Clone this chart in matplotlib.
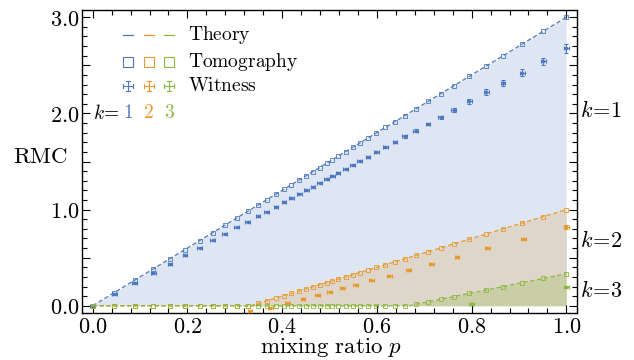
import matplotlib
matplotlib.use("Agg")
import matplotlib.pyplot as plt
from matplotlib.ticker import MultipleLocator, FuncFormatter

plt.rcParams['mathtext.fontset'] = 'cm'
plt.rcParams['font.family'] = ['DejaVu Serif']

# ---------------- data ----------------
theory_p = [0.0, 1/3, 2/3, 1.0]
theory_k1 = [0.0, 1.0, 2.0, 3.0]
theory_k2 = [0.0, 0.0, 0.5, 1.0]
theory_k3 = [0.0, 0.0, 0.0, 1/3]

p_tomo = [0.0, 0.046, 0.089, 0.128, 0.163, 0.195, 0.226, 0.253, 0.279, 0.304,
          0.327, 0.349, 0.367, 0.387, 0.404, 0.419, 0.436, 0.451, 0.465, 0.479,
          0.494, 0.506, 0.518, 0.534, 0.549, 0.564, 0.581, 0.599, 0.618, 0.638,
          0.659, 0.682, 0.708, 0.735, 0.762, 0.795, 0.831, 0.866, 0.907, 0.951, 1.0]
tomo_k1 = [0.0, 0.138, 0.267, 0.384, 0.489, 0.585, 0.678, 0.759, 0.837, 0.912,
           0.981, 1.047, 1.101, 1.161, 1.212, 1.257, 1.308, 1.353, 1.395, 1.437,
           1.482, 1.518, 1.554, 1.602, 1.647, 1.692, 1.743, 1.797, 1.854, 1.914,
           1.977, 2.046, 2.124, 2.205, 2.286, 2.385, 2.493, 2.598, 2.721, 2.853, 3.0]
tomo_k2 = [0.0, 0.0, 0.0, 0.0, 0.0, 0.0, 0.0, 0.0, 0.0, 0.0,
           0.0, 0.024, 0.051, 0.081, 0.106, 0.129, 0.154, 0.177, 0.198, 0.219,
           0.241, 0.259, 0.277, 0.301, 0.324, 0.346, 0.372, 0.399, 0.427, 0.457,
           0.489, 0.523, 0.562, 0.603, 0.643, 0.693, 0.747, 0.799, 0.861, 0.927, 1.0]
tomo_k3 = [0.0, 0.0, 0.0, 0.0, 0.0, 0.0, 0.0, 0.0, 0.0, 0.0,
           0.0, 0.0, 0.0, 0.0, 0.0, 0.0, 0.0, 0.0, 0.0, 0.0,
           0.0, 0.0, 0.0, 0.0, 0.0, 0.0, 0.0, 0.0, 0.0, 0.0,
           0.0, 0.015, 0.041, 0.068, 0.095, 0.128, 0.164, 0.199, 0.240, 0.284, 0.333]

wit_k1 = [0.0, 0.12, 0.235, 0.34, 0.435, 0.525, 0.605, 0.68, 0.75, 0.815,
          0.875, 0.93, 0.98, 1.03, 1.08, 1.12, 1.165, 1.205, 1.24, 1.28,
          1.32, 1.35, 1.385, 1.425, 1.465, 1.505, 1.55, 1.60, 1.65, 1.705,
          1.76, 1.82, 1.89, 1.96, 2.035, 2.125, 2.22, 2.315, 2.425, 2.54, 2.675]
wit_k1_err = [0.008, 0.008, 0.008, 0.008, 0.008, 0.008, 0.008, 0.008, 0.008, 0.008,
              0.008, 0.008, 0.008, 0.008, 0.008, 0.008, 0.008, 0.008, 0.008, 0.008,
              0.009, 0.009, 0.009, 0.01, 0.01, 0.01, 0.011, 0.011, 0.012, 0.012,
              0.013, 0.014, 0.015, 0.017, 0.02, 0.025, 0.03, 0.035, 0.04, 0.04, 0.045]

p_wit_k2 = [0.332, 0.375, 0.411, 0.444, 0.475, 0.50, 0.527, 0.555, 0.588, 0.626,
            0.667, 0.715, 0.769, 0.833, 0.909, 1.0]
wit_k2 = [-0.05, -0.02, 0.03, 0.073, 0.114, 0.148, 0.183, 0.221, 0.263, 0.314,
          0.373, 0.435, 0.508, 0.598, 0.694, 0.815]
wit_k2_err = [0.008, 0.008, 0.008, 0.008, 0.008, 0.008, 0.008, 0.008, 0.009, 0.009,
              0.01, 0.01, 0.011, 0.012, 0.014, 0.02]

p_wit_k3 = [0.80, 1.0]
wit_k3 = [0.02, 0.20]
wit_k3_err = [0.01, 0.01]

ks = ['1', '2', '3']
colors = ['#4d78bf', '#e8982c', '#8cb83c']
fill_alpha = [0.18, 0.2, 0.26]

# ---------------- figure ----------------
fig = plt.figure(figsize=(6.34, 3.6), dpi=100)
ax = fig.add_axes([82/634, 1 - 313/360, 495/634, 303/360])

theories = [theory_k1, theory_k2, theory_k3]
tomos = [tomo_k1, tomo_k2, tomo_k3]
wits = [(p_tomo, wit_k1, wit_k1_err), (p_wit_k2, wit_k2, wit_k2_err), (p_wit_k3, wit_k3, wit_k3_err)]

for i in range(3):
    c = colors[i]
    z = 2 + 3 * i
    ax.fill_between(theory_p, 0, theories[i], color=c, alpha=fill_alpha[i], lw=0, zorder=1)
    pw, vw, ew = wits[i]
    ax.errorbar(pw, vw, yerr=ew, xerr=0.005, fmt='o', ms=1.5, color=c, ecolor=c,
                elinewidth=0.8, capsize=1.3, capthick=0.8, zorder=z)
    ax.plot(theory_p, theories[i], ls=(0, (3.5, 2)), lw=0.9, color=c, zorder=z + 1)
    ax.plot(p_tomo, tomos[i], ls='none', marker='s', ms=3.0, mfc='none', mec=c, mew=0.6,
            zorder=z + 2)

ax.set_xlim(-0.0225, 1.0225)
ax.set_ylim(-0.075, 3.075)

ax.xaxis.set_major_locator(MultipleLocator(0.2))
ax.xaxis.set_minor_locator(MultipleLocator(0.04))
ax.yaxis.set_major_locator(MultipleLocator(0.5))
ax.yaxis.set_minor_locator(MultipleLocator(0.1))
ax.xaxis.set_major_formatter(FuncFormatter(lambda v, pos: r'$%.1f$' % v))
ax.yaxis.set_major_formatter(FuncFormatter(
    lambda v, pos: (r'$%.1f$' % v) if abs(v - round(v)) < 1e-6 else ''))

ax.tick_params(which='both', direction='in', top=True, right=True, width=0.8, colors='black')
ax.tick_params(which='major', length=6)
ax.tick_params(which='minor', length=3.5)
ax.tick_params(axis='x', which='major', labelsize=16, pad=2)
ax.tick_params(axis='y', which='major', labelsize=16, pad=1.5)
for s in ax.spines.values():
    s.set_linewidth(1.0)

ax.set_xlabel(r'$\mathrm{mixing\ ratio}\ p$', fontsize=16.5, va='center')
ax.xaxis.set_label_coords(0.503, -0.114)
ax.set_ylabel(r'$\mathrm{RMC}$', fontsize=16.5, rotation=0, va='center', ha='center')
ax.yaxis.set_label_coords(-0.083, 0.515)

# right-hand k labels
for lab, yv in zip(ks, [2.02, 0.67, 0.155]):
    ax.text(1.006, yv, r'$k\!=\!%s$' % lab, transform=ax.get_yaxis_transform(),
            fontsize=16, ha='left', va='center')

# ---------------- manual legend ----------------
hx = [0.093, 0.135, 0.176]
rows = [0.917, 0.828, 0.749, 0.660]
dx = 5 / 495
dy = 5 / 303
tr = ax.transAxes
for i in range(3):
    c = colors[i]
    ax.plot([hx[i] - dx, hx[i] + dx], [rows[0], rows[0]], color=c, lw=0.9, transform=tr, zorder=20)
    ax.plot([hx[i]], [rows[1]], marker='s', ms=7, mfc='none', mec=c, mew=0.8, transform=tr, zorder=20)
    # witness cross with caps
    y0 = rows[2]
    ax.plot([hx[i] - dx, hx[i] + dx], [y0, y0], color=c, lw=0.8, transform=tr, zorder=20)
    ax.plot([hx[i], hx[i]], [y0 - dy, y0 + dy], color=c, lw=0.8, transform=tr, zorder=20)
    ax.plot([hx[i] - dx, hx[i] - dx], [y0 - 0.45 * dy, y0 + 0.45 * dy], color=c, lw=0.8, transform=tr, zorder=20)
    ax.plot([hx[i] + dx, hx[i] + dx], [y0 - 0.45 * dy, y0 + 0.45 * dy], color=c, lw=0.8, transform=tr, zorder=20)
    ax.plot([hx[i] - 0.45 * dx, hx[i] + 0.45 * dx], [y0 - dy, y0 - dy], color=c, lw=0.8, transform=tr, zorder=20)
    ax.plot([hx[i] - 0.45 * dx, hx[i] + 0.45 * dx], [y0 + dy, y0 + dy], color=c, lw=0.8, transform=tr, zorder=20)
    ax.text(hx[i], rows[3], r'$%s$' % ks[i], color=c, fontsize=14, ha='center', va='center',
            transform=tr)

tx = 0.214
for lab, yy in zip([r'$\mathrm{Theory}$', r'$\mathrm{Tomography}$', r'$\mathrm{Witness}$'], rows[:3]):
    ax.text(tx, yy, lab, fontsize=14, ha='left', va='center', transform=tr)
ax.text(0.077, rows[3], r'$k\!=$', fontsize=14, ha='right', va='center', transform=tr)

fig.savefig('out.png', dpi=100)
